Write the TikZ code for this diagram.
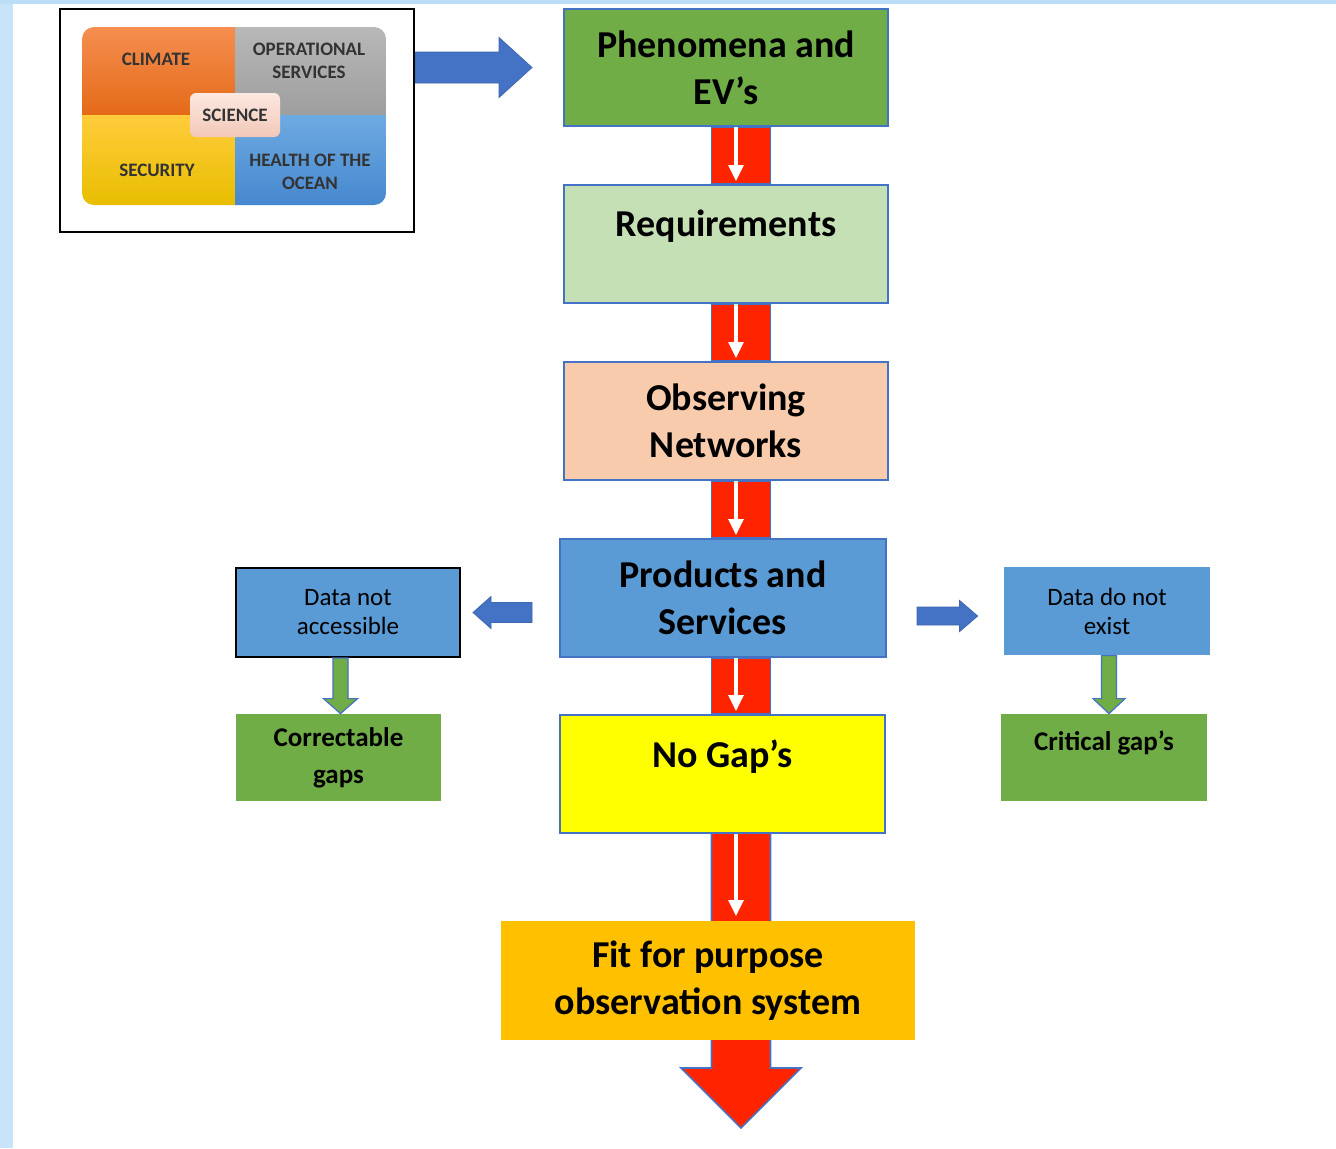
\documentclass[tikz,border=0pt]{standalone}
\usepackage{fontspec}
\setmainfont{Carlito}
\usetikzlibrary{arrows.meta,calc}
\pgfdeclarelayer{bg}
\pgfdeclarelayer{back}
\pgfsetlayers{bg,back,main}
\definecolor{cgreen}{HTML}{70AD47}
\definecolor{clightgreen}{HTML}{C5E0B4}
\definecolor{cpeach}{HTML}{F8CBAD}
\definecolor{cblue}{HTML}{5B9BD5}
\definecolor{cyellow}{HTML}{FFFF00}
\definecolor{corange}{HTML}{FFC000}
\definecolor{cred}{HTML}{FF2400}
\definecolor{bordblue}{HTML}{4472C4}
\definecolor{leftblue}{HTML}{C9E4F9}
\definecolor{topblue}{HTML}{BCDDF7}
\begin{document}
\begin{tikzpicture}[x=0.5pt,y=-0.5pt,
  flow/.style={draw=bordblue, line width=1pt, font=\fontsize{19}{23.5}\selectfont\bfseries,
    align=center, inner sep=0pt, text=black},
  smallbox/.style={font=\fontsize{12.5}{14.5}\selectfont, align=center, inner sep=0pt, text=black},
  gapbox/.style={font=\fontsize{13.5}{18.5}\selectfont\bfseries, align=center, inner sep=0pt,
    fill=cgreen, text=black},
  insettext/.style={font=\fontsize{9.5}{11.5}\selectfont\bfseries, align=center, inner sep=0pt,
    text=black!80},
  redshaft/.style={fill=cred, draw=bordblue, line width=0.8pt},
  whitearrow/.style={draw=white, line width=1.6pt, -{Triangle[width=7.5pt,length=8pt]}},
  bluearrow/.style={fill=bordblue, draw=bordblue!90!black, line width=0.4pt},
  greenarrow/.style={fill=cgreen, draw=bordblue, line width=0.6pt}]

\useasboundingbox (0,0) rectangle (1336,1148);
\begin{pgfonlayer}{bg}
  \fill[white] (0,0) rectangle (1336,1148);
  \fill[leftblue] (0,0) rectangle (13,1148);
  \fill[topblue] (0,0) rectangle (1336,4);
\end{pgfonlayer}

% ---------- inset ----------
\node[draw=black, line width=1.2pt, minimum width=177pt, minimum height=111.5pt, inner sep=0pt] (inset) at (237,120.5) {};
\begin{scope}
  \clip[rounded corners=6pt] (82,27) rectangle (386,205);
  \shade[top color={rgb,255:red,245;green,142;blue,80}, bottom color={rgb,255:red,228;green,106;blue,24}] (82,27) rectangle (235,115);
  \shade[top color={rgb,255:red,184;green,184;blue,184}, bottom color={rgb,255:red,158;green,158;blue,158}] (235,27) rectangle (386,115);
  \shade[top color={rgb,255:red,255;green,204;blue,60}, bottom color={rgb,255:red,232;green,190;blue,0}] (82,115) rectangle (235,205);
  \shade[top color={rgb,255:red,110;green,170;blue,226}, bottom color={rgb,255:red,70;green,136;blue,206}] (235,115) rectangle (386,205);
\end{scope}
\node[insettext] (tclimate) at (156,59) {CLIMATE};
\node[insettext] (tops) at (309,60.5) {OPERATIONAL\\SERVICES};
\node[insettext] (tsec) at (157,170) {SECURITY};
\node[insettext] (thealth) at (310,171.5) {HEALTH OF THE\\OCEAN};
\node[insettext, rounded corners=3pt, minimum width=45pt, minimum height=22pt,
  top color={rgb,255:red,252;green,232;blue,224}, bottom color={rgb,255:red,242;green,200;blue,184}] (science) at (235,115) {SCIENCE};

% ---------- main flow boxes ----------
\node[flow, fill=cgreen, minimum width=162pt, minimum height=58.5pt] (phen) at (726,67.5) {Phenomena and\\EV’s};
\node[flow, fill=clightgreen, minimum width=162pt, minimum height=59pt] (req) at (726,244) {Requirements\\[-10pt]\strut};
\node[flow, fill=cpeach, minimum width=162pt, minimum height=59pt] (obs) at (726,421) {Observing\\Networks};
\node[flow, fill=cblue, minimum width=163pt, minimum height=59pt] (prod) at (723,598) {Products and\\Services};
\node[flow, fill=cyellow, minimum width=162.5pt, minimum height=59pt] (nogap) at (722.5,774) {No Gap’s\\[-10pt]\strut};
\node[flow, draw=none, fill=corange, minimum width=207pt, minimum height=59.5pt] (fit) at (708,980.5) {Fit for purpose\\observation system};

% ---------- side boxes ----------
\node[smallbox, fill=cblue, draw=black, line width=1pt, minimum width=112pt, minimum height=44.5pt] (dna) at (348,612.5) {Data not\\accessible};
\node[gapbox, minimum width=102.5pt, minimum height=43.5pt] (corr) at (338.5,757.5) {Correctable\\gaps};
\node[smallbox, fill=cblue, minimum width=103pt, minimum height=44pt] (dne) at (1107,611) {Data do not\\exist};
\node[gapbox, minimum width=103pt, minimum height=43.5pt] (crit) at (1104,757.5) {Critical gap’s\\[-7pt]\strut};

% ---------- red connectors ----------
\coordinate (redx) at (741,0);
\coordinate (whitex) at (736,0);
\coordinate (tip) at (741,1128);
\begin{pgfonlayer}{back}
  \foreach \a/\b in {phen/req, req/obs, obs/prod, prod/nogap}{
    \draw[redshaft] ($(\a.south -| redx)+(-29.5,0)$) rectangle ($(\b.north -| redx)+(29.5,0)$);
    \draw[whitearrow] (\a.south -| whitex) -- ($(\b.north -| whitex)+(0,-3)$);
  }
  \draw[redshaft] ($(nogap.south -| redx)+(-29.5,0)$) -- ($(tip)+(-29.5,-60)$) -- ($(tip)+(-60,-60)$)
    -- (tip) -- ($(tip)+(60,-60)$) -- ($(tip)+(29.5,-60)$) -- ($(nogap.south -| redx)+(29.5,0)$);
  \draw[whitearrow] (nogap.south -| whitex) -- ($(fit.north -| whitex)+(0,-4)$);
\end{pgfonlayer}

% ---------- blue arrows ----------
\coordinate (ba1) at (inset.east |- phen.west);
\coordinate (ba2) at ($(phen.west)+(-31,0)$);
\draw[bluearrow] ($(ba1)+(0,-15.5)$) -- ($(ba2)+(-33,-15.5)$) -- ($(ba2)+(-33,-30)$) -- (ba2)
  -- ($(ba2)+(-33,30)$) -- ($(ba2)+(-33,15.5)$) -- ($(ba1)+(0,15.5)$) -- cycle;

\coordinate (la1) at ($(prod.west |- dna.east)+(-27,0)$);
\coordinate (la2) at ($(dna.east)+(12,0)$);
\draw[bluearrow] ($(la1)+(0,-10)$) -- ($(la2)+(18,-10)$) -- ($(la2)+(18,-16)$) -- (la2)
  -- ($(la2)+(18,16)$) -- ($(la2)+(18,10)$) -- ($(la1)+(0,10)$) -- cycle;

\coordinate (ra1) at ($(prod.east |- dne.west)+(30,5)$);
\coordinate (ra2) at ($(dne.west)+(-26,5)$);
\draw[bluearrow] ($(ra1)+(0,-9)$) -- ($(ra2)+(-18,-9)$) -- ($(ra2)+(-18,-15.5)$) -- (ra2)
  -- ($(ra2)+(-18,15.5)$) -- ($(ra2)+(-18,9)$) -- ($(ra1)+(0,9)$) -- cycle;

% ---------- green arrows ----------
\coordinate (ga1) at ($(dna.south)+(-7.5,0)$);
\coordinate (ga2) at (ga1 |- corr.north);
\draw[greenarrow] ($(ga1)+(-7.5,0)$) -- ($(ga2)+(-7.5,-15)$) -- ($(ga2)+(-17,-15)$) -- (ga2)
  -- ($(ga2)+(17,-15)$) -- ($(ga2)+(7.5,-15)$) -- ($(ga1)+(7.5,0)$) -- cycle;

\coordinate (gb1) at ($(dne.south)+(2,0)$);
\coordinate (gb2) at (gb1 |- crit.north);
\draw[greenarrow] ($(gb1)+(-7.5,0)$) -- ($(gb2)+(-7.5,-15)$) -- ($(gb2)+(-16,-15)$) -- (gb2)
  -- ($(gb2)+(16,-15)$) -- ($(gb2)+(7.5,-15)$) -- ($(gb1)+(7.5,0)$) -- cycle;

\end{tikzpicture}
\end{document}
